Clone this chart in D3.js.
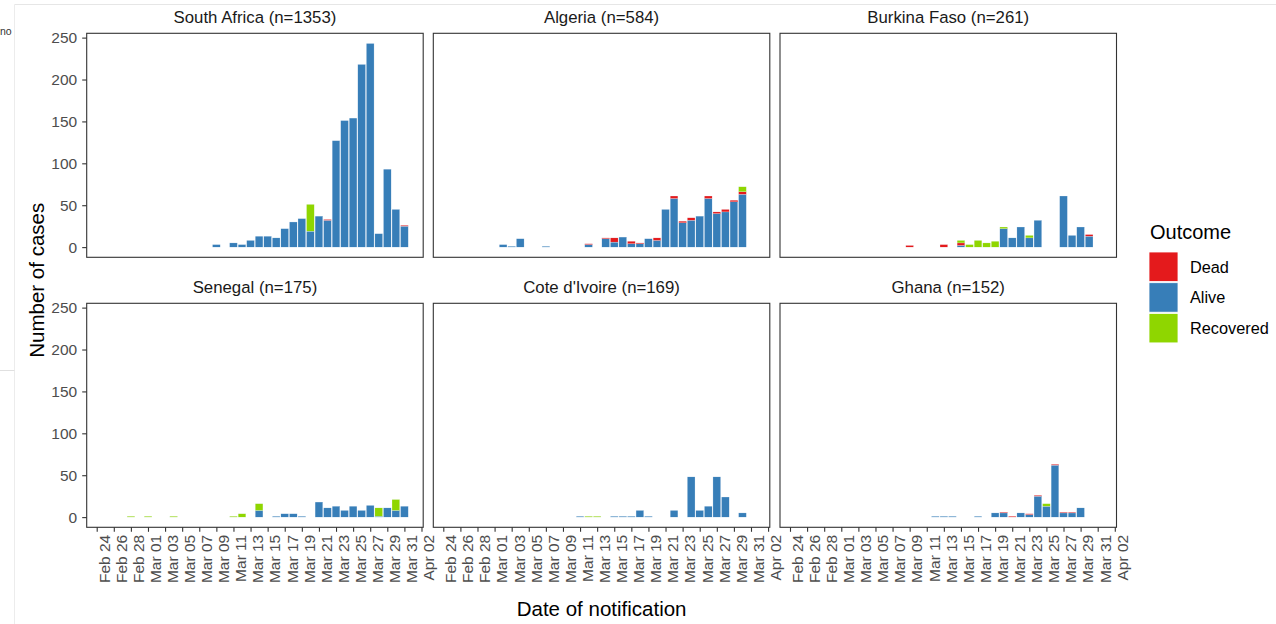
<!DOCTYPE html>
<html>
<head>
<meta charset="utf-8">
<script src="https://cdn.jsdelivr.net/npm/d3@7"></script>
<style>
  html, body { margin: 0; padding: 0; background: #ffffff; }
  svg { display: block; }
</style>
</head>
<body>
<div id="chart"></div>
<script>
// ---------------- DATA ----------------
const countries = ["South Africa", "Algeria", "Burkina Faso", "Senegal", "Cote d'Ivoire", "Ghana"];
const countryN = [1353, 584, 261, 175, 169, 152];
const outcomeLabels = ["Dead", "Alive", "Recovered"];
const outcomeColors = ["#E41A1C", "#377EB8", "#8FD600"];
const stackOrder = ["Alive", "Dead", "Recovered"]; // bottom -> top
const yTickValues = [0, 50, 100, 150, 200, 250];
const xTickLabels = ["Feb 24","Feb 26","Feb 28","Mar 01","Mar 03","Mar 05","Mar 07","Mar 09","Mar 11","Mar 13",
                     "Mar 15","Mar 17","Mar 19","Mar 21","Mar 23","Mar 25","Mar 27","Mar 29","Mar 31","Apr 02"];

// South Africa
const saDates     = ["Mar 09","Mar 11","Mar 12","Mar 13","Mar 14","Mar 15","Mar 16","Mar 17","Mar 18","Mar 19","Mar 20","Mar 21","Mar 22","Mar 23","Mar 24","Mar 25","Mar 26","Mar 27","Mar 28","Mar 29","Mar 30","Mar 31"];
const saAlive     = [3, 5, 3, 8, 13, 13, 11, 22, 30, 34, 19, 37, 32, 127, 151, 154, 218, 243, 16, 93, 45, 25];
const saDead      = [0, 0, 0, 0, 0, 0, 0, 0, 0, 0, 0, 0, 1, 0, 0, 0, 0, 0, 0, 0, 0, 1];
const saRecovered = [0, 0, 0, 0, 0, 0, 0, 0, 0, 0, 32, 0, 0, 0, 0, 0, 0, 0, 0, 0, 0, 0];

// Algeria
const dzDates     = ["Mar 02","Mar 03","Mar 04","Mar 07","Mar 12","Mar 14","Mar 15","Mar 16","Mar 17","Mar 18","Mar 19","Mar 20","Mar 21","Mar 22","Mar 23","Mar 24","Mar 25","Mar 26","Mar 27","Mar 28","Mar 29","Mar 30"];
const dzAlive     = [3, 1, 10, 1, 3, 10, 6, 12, 4, 4, 10, 8, 45, 58, 29, 32, 37, 58, 40, 42, 54, 63];
const dzDead      = [0, 0, 0, 0, 1, 1, 5, 0, 3, 1, 0, 3, 0, 3, 2, 3, 0, 3, 2, 3, 2, 3];
const dzRecovered = [0, 0, 0, 0, 0, 0, 0, 0, 0, 0, 0, 0, 0, 0, 0, 0, 0, 0, 0, 0, 0, 6];

// Burkina Faso
const bfDates     = ["Mar 09","Mar 13","Mar 15","Mar 16","Mar 17","Mar 18","Mar 19","Mar 20","Mar 21","Mar 22","Mar 23","Mar 24","Mar 27","Mar 28","Mar 29","Mar 30"];
const bfAlive     = [0, 0, 2, 0, 0, 0, 0, 22, 11, 24, 11, 32, 61, 14, 24, 13];
const bfDead      = [2, 3, 3, 0, 0, 0, 0, 0, 0, 0, 0, 0, 0, 0, 0, 2];
const bfRecovered = [0, 0, 3, 3, 8, 5, 7, 2, 0, 0, 3, 0, 0, 0, 0, 0];

// Senegal
const snDates     = ["Feb 28","Mar 01","Mar 04","Mar 11","Mar 12","Mar 14","Mar 16","Mar 17","Mar 18","Mar 19","Mar 21","Mar 22","Mar 23","Mar 24","Mar 25","Mar 26","Mar 27","Mar 28","Mar 29","Mar 30","Mar 31"];
const snAlive     = [0, 0, 0, 0, 0, 8, 1, 4, 4, 1, 18, 11, 13, 8, 13, 8, 14, 1, 11, 8, 13];
const snDead      = [0, 0, 0, 0, 0, 0, 0, 0, 0, 0, 0, 0, 0, 0, 0, 0, 0, 0, 0, 0, 0];
const snRecovered = [1, 1, 1, 1, 4, 8, 0, 0, 0, 0, 0, 0, 0, 0, 0, 0, 0, 10, 0, 13, 0];

// Cote d'Ivoire
const ciDates     = ["Mar 11","Mar 12","Mar 13","Mar 15","Mar 16","Mar 17","Mar 18","Mar 19","Mar 22","Mar 24","Mar 25","Mar 26","Mar 27","Mar 28","Mar 30"];
const ciAlive     = [1, 0, 0, 1, 1, 1, 8, 1, 8, 48, 8, 13, 48, 24, 5];
const ciDead      = [0, 0, 0, 0, 0, 0, 0, 0, 0, 0, 0, 0, 0, 0, 0];
const ciRecovered = [0, 1, 1, 0, 0, 0, 0, 0, 0, 0, 0, 0, 0, 0, 0];

// Ghana
const ghDates     = ["Mar 12","Mar 13","Mar 14","Mar 17","Mar 19","Mar 20","Mar 21","Mar 22","Mar 23","Mar 24","Mar 25","Mar 26","Mar 27","Mar 28","Mar 29"];
const ghAlive     = [1, 1, 1, 1, 5, 5, 0, 5, 3, 25, 13, 62, 5, 5, 11];
const ghDead      = [0, 0, 0, 0, 0, 1, 1, 0, 1, 1, 0, 1, 1, 1, 0];
const ghRecovered = [0, 0, 0, 0, 0, 0, 0, 0, 0, 0, 3, 0, 0, 0, 0];

const seriesByCountry = [
  [saDates, saAlive, saDead, saRecovered],
  [dzDates, dzAlive, dzDead, dzRecovered],
  [bfDates, bfAlive, bfDead, bfRecovered],
  [snDates, snAlive, snDead, snRecovered],
  [ciDates, ciAlive, ciDead, ciRecovered],
  [ghDates, ghAlive, ghDead, ghRecovered]
];

// ---------------- LAYOUT ----------------
const W = 1276, H = 624;
const colX = [86.7, 433.3, 780];
const rowY = [33.3, 303.3];
const panelW = 336.5, panelH = 224;
const DAY = 86400000;
const parseLbl = s => d3.utcParse("%b %d %Y")(s + " 2020");
const t0 = parseLbl("Feb 24");
const FONT = "'Liberation Sans', Arial, Helvetica, sans-serif";

const svg = d3.select("#chart").append("svg")
  .attr("width", W).attr("height", H)
  .style("font-family", FONT);

svg.append("rect").attr("width", W).attr("height", H).attr("fill", "#ffffff");

// screenshot frame remnants (window edge)
svg.append("line").attr("x1", 14.5).attr("x2", W).attr("y1", 4.5).attr("y2", 4.5)
  .attr("stroke", "#e6e6e6").attr("stroke-width", 1);
svg.append("line").attr("x1", 14.5).attr("x2", 14.5).attr("y1", 4.5).attr("y2", H)
  .attr("stroke", "#ececec").attr("stroke-width", 1);
svg.append("line").attr("x1", 0).attr("x2", 14.5).attr("y1", 370.5).attr("y2", 370.5)
  .attr("stroke", "#e0e0e0").attr("stroke-width", 1);
svg.append("text").attr("x", 0).attr("y", 35).attr("font-size", 10.5).attr("fill", "#333").text("no");

// scales
const x = d3.scaleUtc()
  .domain([new Date(+t0 - 1.17 * DAY), new Date(+t0 + 38.2 * DAY)])
  .range([0, panelW]);

const tables = seriesByCountry.map(([dates, alive, dead, rec]) =>
  dates.map((d, i) => ({ date: parseLbl(d), Alive: alive[i], Dead: dead[i], Recovered: rec[i] })));
const maxTotal = d3.max(tables.flat(), r => r.Alive + r.Dead + r.Recovered);
const pad = maxTotal * 0.05;
const y = d3.scaleLinear().domain([-pad, maxTotal + pad]).range([panelH, 0]);

const colorOf = d3.scaleOrdinal().domain(outcomeLabels).range(outcomeColors);
const stack = d3.stack().keys(stackOrder);
const xTickDates = xTickLabels.map(parseLbl);

countries.forEach((name, ci) => {
  const col = ci % 3, row = Math.floor(ci / 3);
  const g = svg.append("g").attr("transform", `translate(${colX[col]},${rowY[row]})`);

  // strip title
  g.append("text")
    .attr("x", panelW / 2).attr("y", -10.5)
    .attr("text-anchor", "middle")
    .attr("font-size", 16.8).attr("fill", "#1a1a1a")
    .text(`${name} (n=${countryN[ci]})`);

  // bars
  const layers = stack(tables[ci]);
  const bw = x(new Date(+t0 + 0.45 * DAY)) - x(new Date(+t0 - 0.45 * DAY));
  g.append("g").selectAll("g").data(layers).join("g")
    .attr("fill", d => colorOf(d.key))
    .selectAll("rect").data(d => d.filter(s => s[1] - s[0] > 0)).join("rect")
      .attr("x", s => x(s.data.date) - bw / 2)
      .attr("width", bw)
      .attr("y", s => y(s[1]))
      .attr("height", s => y(s[0]) - y(s[1]))
      .attr("stroke", "#eef4fa").attr("stroke-width", 0.25);

  // panel border
  g.append("rect").attr("width", panelW).attr("height", panelH)
    .attr("fill", "none").attr("stroke", "#333333").attr("stroke-width", 1.1);

  // y axis only in first column
  if (col === 0) {
    const ya = g.append("g").call(d3.axisLeft(y).tickValues(yTickValues).tickSize(4.5).tickPadding(5));
    ya.select(".domain").remove();
    ya.selectAll(".tick line").attr("stroke", "#333333").attr("stroke-width", 1.1);
    ya.selectAll(".tick text").attr("fill", "#4d4d4d").attr("font-size", 15.5).attr("font-family", FONT);
  }
  // x axis only on bottom row
  if (row === 1) {
    const xa = g.append("g").attr("transform", `translate(0,${panelH})`)
      .call(d3.axisBottom(x).tickValues(xTickDates).tickSize(4.5).tickFormat((d, i) => xTickLabels[i]));
    xa.select(".domain").remove();
    xa.selectAll(".tick line").attr("stroke", "#333333").attr("stroke-width", 1.1);
    xa.selectAll(".tick text")
      .attr("fill", "#4d4d4d").attr("font-size", 15.5).attr("font-family", FONT)
      .attr("text-anchor", "end")
      .attr("transform", "rotate(-90)")
      .attr("x", -7.5).attr("y", 1).attr("dy", "0.73em");
  }
});

// axis titles
svg.append("text")
  .attr("transform", `translate(44,${rowY[0] + (rowY[1] + panelH - rowY[0]) / 2}) rotate(-90)`)
  .attr("text-anchor", "middle").attr("font-size", 20.5).attr("fill", "#000")
  .text("Number of cases");
svg.append("text")
  .attr("x", colX[0] + (colX[2] + panelW - colX[0]) / 2).attr("y", 616)
  .attr("text-anchor", "middle").attr("font-size", 20.5).attr("fill", "#000")
  .text("Date of notification");

// legend
const lg = svg.append("g").attr("transform", "translate(1149,223)");
lg.append("text").attr("x", 1).attr("y", 16).attr("font-size", 20).attr("fill", "#000").text("Outcome");
outcomeLabels.forEach((lab, i) => {
  lg.append("rect").attr("x", 0).attr("y", 29 + i * 30.7).attr("width", 29).attr("height", 29.5)
    .attr("fill", colorOf(lab)).attr("stroke", "#ffffff").attr("stroke-width", 0.8);
  lg.append("text").attr("x", 41).attr("y", 29 + i * 30.7 + 14.8).attr("dy", "0.35em")
    .attr("font-size", 16.3).attr("fill", "#000").text(lab);
});
</script>
</body>
</html>
